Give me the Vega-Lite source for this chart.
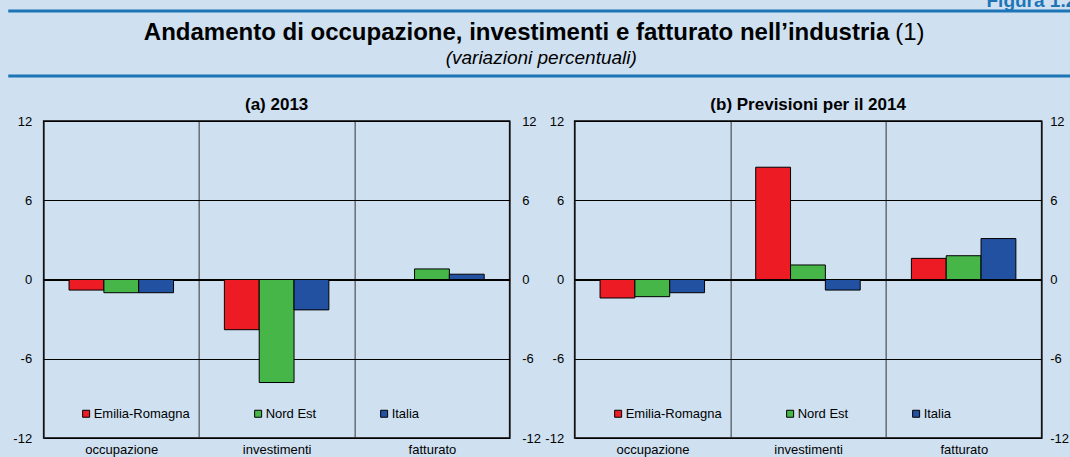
{
  "$schema": "https://vega.github.io/schema/vega-lite/v6.json",
  "background": "#cfe0f1",
  "padding": {"left": 5, "top": -10, "right": 0, "bottom": 0},
  "config": {
    "font": "Liberation Sans",
    "view": {"stroke": "black", "strokeWidth": 1.5},
    "axis": {"labelFont": "Liberation Sans", "labelFontSize": 13, "labelColor": "black", "ticks": false, "domain": false, "title": null},
    "title": {"font": "Liberation Sans", "color": "black"},
    "legend": {"labelFont": "Liberation Sans", "labelFontSize": 13, "labelColor": "black"}
  },
  "datasets": {
    "hdr": [
      {"parte": "titolo", "testo": "Andamento di occupazione, investimenti e fatturato nell’industria"},
      {"parte": "nota", "testo": "(1)"},
      {"parte": "sottotitolo", "testo": "(variazioni percentuali)"}
    ],
    "a": [
      {"voce": "occupazione", "area": "Emilia-Romagna", "v": -0.8},
      {"voce": "occupazione", "area": "Nord Est", "v": -1.0},
      {"voce": "occupazione", "area": "Italia", "v": -1.0},
      {"voce": "investimenti", "area": "Emilia-Romagna", "v": -3.8},
      {"voce": "investimenti", "area": "Nord Est", "v": -7.8},
      {"voce": "investimenti", "area": "Italia", "v": -2.3},
      {"voce": "fatturato", "area": "Emilia-Romagna", "v": 0.0},
      {"voce": "fatturato", "area": "Nord Est", "v": 0.8},
      {"voce": "fatturato", "area": "Italia", "v": 0.4}
    ],
    "b": [
      {"voce": "occupazione", "area": "Emilia-Romagna", "v": -1.4},
      {"voce": "occupazione", "area": "Nord Est", "v": -1.3},
      {"voce": "occupazione", "area": "Italia", "v": -1.0},
      {"voce": "investimenti", "area": "Emilia-Romagna", "v": 8.5},
      {"voce": "investimenti", "area": "Nord Est", "v": 1.1},
      {"voce": "investimenti", "area": "Italia", "v": -0.8},
      {"voce": "fatturato", "area": "Emilia-Romagna", "v": 1.6},
      {"voce": "fatturato", "area": "Nord Est", "v": 1.8},
      {"voce": "fatturato", "area": "Italia", "v": 3.1}
    ],
    "zero": [{"z": 0}]
  },
  "spacing": 17,
  "center": true,
  "vconcat": [
    {
      "width": 1100,
      "height": 65,
      "title": {"text": "Figura 1.2", "anchor": "end", "frame": "group", "fontSize": 19, "fontWeight": "bold", "color": "#1d75b8", "offset": 0, "dx": -32},
      "view": {"stroke": "#1d75b8", "strokeWidth": 3, "strokeDash": [1100, 65, 1100, 65]},
      "data": {"name": "hdr"},
      "layer": [
        {
          "transform": [{"filter": "datum.parte == 'titolo'"}],
          "mark": {"type": "text", "font": "Liberation Sans", "fontSize": 24, "fontWeight": "bold", "align": "right", "baseline": "alphabetic", "dx": 331, "dy": -4, "color": "black"},
          "encoding": {"text": {"field": "testo"}}
        },
        {
          "transform": [{"filter": "datum.parte == 'nota'"}],
          "mark": {"type": "text", "font": "Liberation Sans", "fontSize": 24, "align": "left", "baseline": "alphabetic", "dx": 337, "dy": -4, "color": "black"},
          "encoding": {"text": {"field": "testo"}}
        },
        {
          "transform": [{"filter": "datum.parte == 'sottotitolo'"}],
          "mark": {"type": "text", "font": "Liberation Sans", "fontSize": 19, "fontStyle": "italic", "align": "center", "baseline": "alphabetic", "dx": -17, "dy": 20, "color": "black"},
          "encoding": {"text": {"field": "testo"}}
        }
      ]
    },
    {
      "spacing": 0,
      "resolve": {"legend": {"color": "independent"}},
      "hconcat": [
        {
          "width": 466,
          "height": 317,
          "title": {"text": "(a) 2013", "frame": "group", "fontSize": 17, "fontWeight": "bold", "offset": 1},
          "layer": [
            {
              "data": {"name": "a"},
              "mark": {"type": "bar", "stroke": "black", "strokeWidth": 1},
              "encoding": {
                "x": {"field": "voce", "type": "nominal", "sort": ["occupazione", "investimenti", "fatturato"], "scale": {"paddingInner": 0, "paddingOuter": 0}, "axis": {"labelAngle": 0, "grid": true, "gridColor": "#333", "gridOpacity": 1, "tickBand": "extent", "labelPadding": 5}},
                "xOffset": {"field": "area", "type": "nominal", "sort": ["Emilia-Romagna", "Nord Est", "Italia"], "scale": {"paddingInner": 0, "paddingOuter": 0.73}},
                "y": {"field": "v", "type": "quantitative", "scale": {"domain": [-12, 12], "nice": false}, "axis": {"values": [-12, -6, 0, 6, 12], "labelExpr": "'' + datum.value", "grid": true, "gridColor": "black", "gridOpacity": 1, "labelPadding": 12, "minExtent": 37, "maxExtent": 37}},
                "color": {"field": "area", "type": "nominal", "sort": ["Emilia-Romagna", "Nord Est", "Italia"], "scale": {"domain": ["Emilia-Romagna", "Nord Est", "Italia"], "range": ["#ed1c24", "#46b649", "#2351a1"]}, "legend": {"orient": "none", "legendX": 36, "legendY": 286, "direction": "horizontal", "title": null, "symbolType": "square", "symbolSize": 49, "symbolStrokeColor": "black", "symbolStrokeWidth": 1, "symbolOpacity": 1, "columnPadding": 61, "labelOffset": 1}}
              }
            },
            {
              "data": {"name": "zero"},
              "mark": {"type": "rule", "color": "black", "strokeWidth": 1},
              "encoding": {"y": {"field": "z", "type": "quantitative", "axis": {"orient": "right", "values": [-12, -6, 0, 6, 12], "labelExpr": "'' + datum.value", "labelPadding": 12, "minExtent": 31, "maxExtent": 31}}}
            }
          ],
          "resolve": {"axis": {"y": "independent"}}
        },
        {
          "width": 467,
          "height": 317,
          "title": {"text": "(b) Previsioni per il 2014", "frame": "group", "fontSize": 17, "fontWeight": "bold", "offset": 1},
          "layer": [
            {
              "data": {"name": "b"},
              "mark": {"type": "bar", "stroke": "black", "strokeWidth": 1},
              "encoding": {
                "x": {"field": "voce", "type": "nominal", "sort": ["occupazione", "investimenti", "fatturato"], "scale": {"paddingInner": 0, "paddingOuter": 0}, "axis": {"labelAngle": 0, "grid": true, "gridColor": "#333", "gridOpacity": 1, "tickBand": "extent", "labelPadding": 5}},
                "xOffset": {"field": "area", "type": "nominal", "sort": ["Emilia-Romagna", "Nord Est", "Italia"], "scale": {"paddingInner": 0, "paddingOuter": 0.73}},
                "y": {"field": "v", "type": "quantitative", "scale": {"domain": [-12, 12], "nice": false}, "axis": {"values": [-12, -6, 0, 6, 12], "labelExpr": "'' + datum.value", "grid": true, "gridColor": "black", "gridOpacity": 1, "labelPadding": 11, "minExtent": 32, "maxExtent": 32}},
                "color": {"field": "area", "type": "nominal", "sort": ["Emilia-Romagna", "Nord Est", "Italia"], "scale": {"domain": ["Emilia-Romagna", "Nord Est", "Italia"], "range": ["#ed1c24", "#46b649", "#2351a1"]}, "legend": {"orient": "none", "legendX": 37, "legendY": 286, "direction": "horizontal", "title": null, "symbolType": "square", "symbolSize": 49, "symbolStrokeColor": "black", "symbolStrokeWidth": 1, "symbolOpacity": 1, "columnPadding": 61, "labelOffset": 1}}
              }
            },
            {
              "data": {"name": "zero"},
              "mark": {"type": "rule", "color": "black", "strokeWidth": 1},
              "encoding": {"y": {"field": "z", "type": "quantitative", "axis": {"orient": "right", "values": [-12, -6, 0, 6, 12], "labelExpr": "'' + datum.value", "labelPadding": 8, "minExtent": 32, "maxExtent": 32}}}
            }
          ],
          "resolve": {"axis": {"y": "independent"}}
        }
      ]
    }
  ]
}
